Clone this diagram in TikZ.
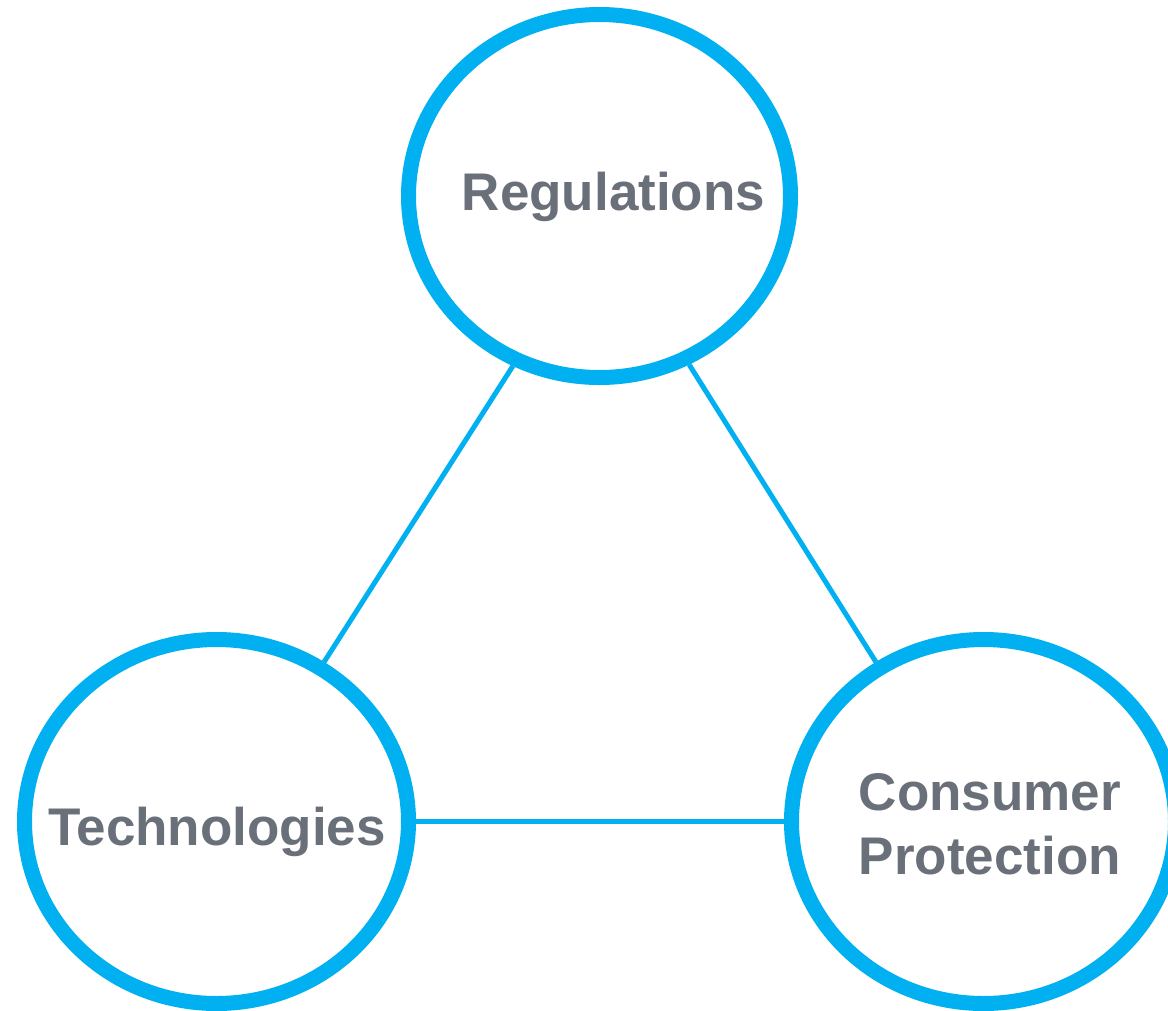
\documentclass[tikz,border=0pt]{standalone}
\usepackage{fontspec}
\setmainfont{Liberation Sans}
\usetikzlibrary{shapes.geometric}
\definecolor{ringblue}{RGB}{0,176,240}
\definecolor{labelgray}{RGB}{106,112,121}
\begin{document}
\begin{tikzpicture}[x=1pt,y=-1pt,
  ring/.style={ellipse,draw=ringblue,line width=15pt,fill=white,inner sep=0pt},
  link/.style={draw=ringblue,line width=5pt},
  lbl/.style={text=labelgray,font=\fontsize{53}{63.5}\selectfont\bfseries,inner sep=0pt,align=center}]
\useasboundingbox (0,0) rectangle (1168,1010);
\node[ring,minimum width=382pt,minimum height=363pt] (reg) at (599.5,196) {};
\node[ring,minimum width=384pt,minimum height=364pt] (tech) at (216.5,821.5) {};
\node[ring,minimum width=384pt,minimum height=364pt] (cons) at (983.5,821.5) {};
\draw[link] (reg.-117) -- (tech.56);
\draw[link] (reg.-62) -- (cons.124);
\draw[link] (tech.0) -- (cons.180);
\node[lbl,anchor=base] (regt) at (613.5,210.7) {Regulations};
\node[lbl,anchor=base] (techt) at (217,845) {Technologies};
\node[lbl,anchor=base] (const) at (990,874) {Consumer\\Protection};
\end{tikzpicture}
\end{document}
